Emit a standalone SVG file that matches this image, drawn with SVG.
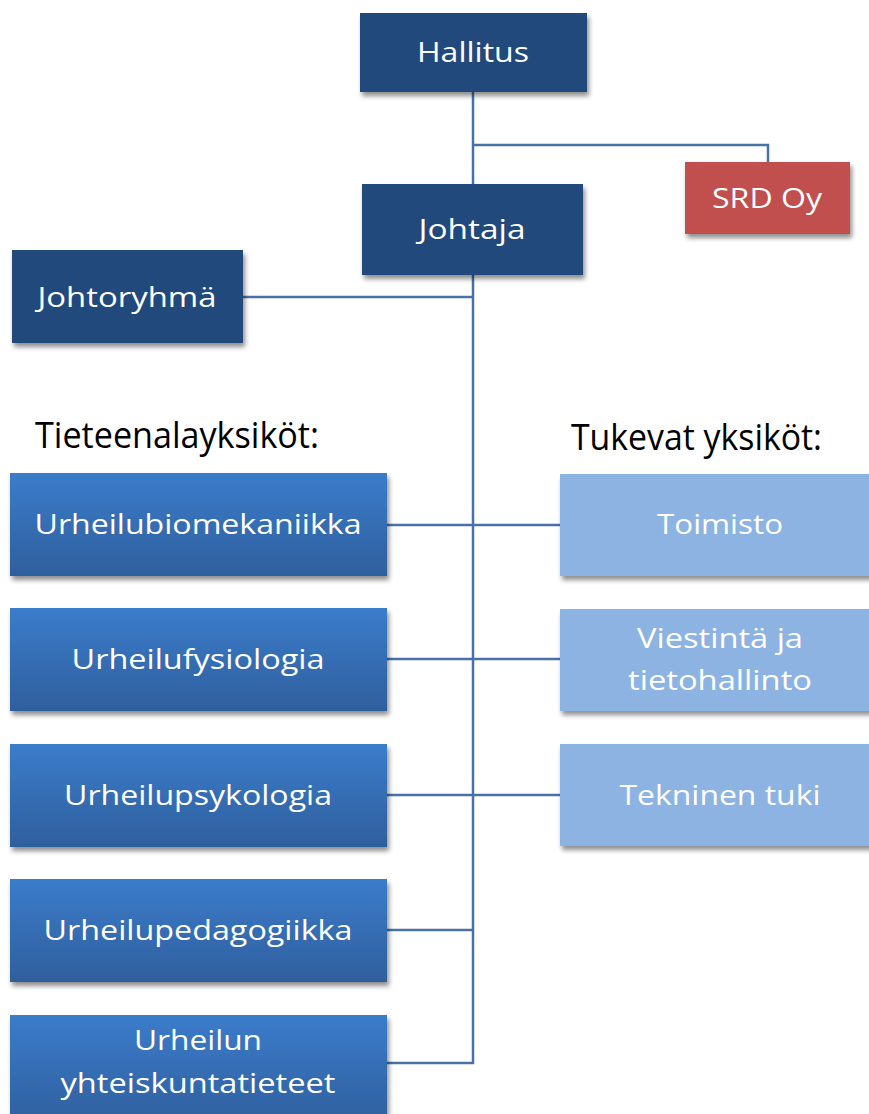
<svg xmlns="http://www.w3.org/2000/svg" width="869" height="1114" viewBox="0 0 869 1114">
<defs>
<linearGradient id="gblue" x1="0" y1="0" x2="0" y2="1">
<stop offset="0" stop-color="#3B7CCB"/>
<stop offset="1" stop-color="#2F5F9D"/>
</linearGradient>
<filter id="sh" x="-10%" y="-10%" width="125%" height="130%">
<feGaussianBlur in="SourceAlpha" stdDeviation="2.5"/>
<feOffset dx="2" dy="4" result="b"/>
<feComponentTransfer><feFuncA type="linear" slope="0.45"/></feComponentTransfer>
<feMerge><feMergeNode/><feMergeNode in="SourceGraphic"/></feMerge>
</filter>
</defs>
<style>
.dark{fill:#204A7B;filter:url(#sh)}
.red{fill:#C0504D;filter:url(#sh)}
.blue{fill:url(#gblue);filter:url(#sh)}
.light{fill:#8DB3E2;filter:url(#sh)}
.t{font-family:"Open Sans","Liberation Sans",sans-serif;font-size:28px;fill:#fff;text-anchor:middle}
.h{font-family:"Open Sans","Liberation Sans",sans-serif;font-size:36px;fill:#000}
.c{fill:none;stroke:#4A71A7;stroke-width:2.5}
</style>
<g id="connectors">
<path class="c" d="M473 92 V184"/>
<path class="c" d="M473 145 H768 V162"/>
<path class="c" d="M473 275 V1063 H387"/>
<path class="c" d="M243 297 H473"/>
<path class="c" d="M387 525 H560"/>
<path class="c" d="M387 659 H560"/>
<path class="c" d="M387 795 H560"/>
<path class="c" d="M387 930 H473"/>
</g>
<g id="hallitus"><rect class="dark" x="360" y="13" width="227" height="79"/><text class="t" x="473" y="62" textLength="112" lengthAdjust="spacingAndGlyphs">Hallitus</text></g>
<g id="srd"><rect class="red" x="685" y="162" width="165" height="72"/><text class="t" x="767" y="208" textLength="110" lengthAdjust="spacingAndGlyphs">SRD Oy</text></g>
<g id="johtaja"><rect class="dark" x="362" y="184" width="221" height="91"/><text class="t" x="472" y="239" textLength="107" lengthAdjust="spacingAndGlyphs">Johtaja</text></g>
<g id="johtoryhma"><rect class="dark" x="12" y="250" width="231" height="93"/><text class="t" x="127" y="307" textLength="179" lengthAdjust="spacingAndGlyphs">Johtoryhmä</text></g>
<g id="heading-left"><text class="h" x="35" y="448" textLength="284" lengthAdjust="spacingAndGlyphs">Tieteenalayksiköt:</text></g>
<g id="heading-right"><text class="h" x="571" y="450" textLength="251" lengthAdjust="spacingAndGlyphs">Tukevat yksiköt:</text></g>
<g id="biomekaniikka"><rect class="blue" x="10" y="473" width="377" height="103"/><text class="t" x="198" y="534" textLength="327" lengthAdjust="spacingAndGlyphs">Urheilubiomekaniikka</text></g>
<g id="fysiologia"><rect class="blue" x="10" y="608" width="377" height="103"/><text class="t" x="198" y="669" textLength="253" lengthAdjust="spacingAndGlyphs">Urheilufysiologia</text></g>
<g id="psykologia"><rect class="blue" x="10" y="744" width="377" height="103"/><text class="t" x="198" y="805" textLength="268" lengthAdjust="spacingAndGlyphs">Urheilupsykologia</text></g>
<g id="pedagogiikka"><rect class="blue" x="10" y="879" width="377" height="103"/><text class="t" x="198" y="940" textLength="309" lengthAdjust="spacingAndGlyphs">Urheilupedagogiikka</text></g>
<g id="yhteiskunta"><rect class="blue" x="10" y="1015" width="377" height="110"/><text class="t" x="198" y="1050" textLength="128" lengthAdjust="spacingAndGlyphs">Urheilun</text><text class="t" x="198" y="1093" textLength="275" lengthAdjust="spacingAndGlyphs">yhteiskuntatieteet</text></g>
<g id="toimisto"><rect class="light" x="560" y="474" width="315" height="102"/><text class="t" x="720" y="534" textLength="126" lengthAdjust="spacingAndGlyphs">Toimisto</text></g>
<g id="viestinta"><rect class="light" x="560" y="609" width="315" height="102"/><text class="t" x="720" y="648" textLength="166" lengthAdjust="spacingAndGlyphs">Viestintä ja</text><text class="t" x="720" y="690" textLength="184" lengthAdjust="spacingAndGlyphs">tietohallinto</text></g>
<g id="tekninen"><rect class="light" x="560" y="744" width="315" height="102"/><text class="t" x="720" y="805" textLength="201" lengthAdjust="spacingAndGlyphs">Tekninen tuki</text></g>
</svg>
